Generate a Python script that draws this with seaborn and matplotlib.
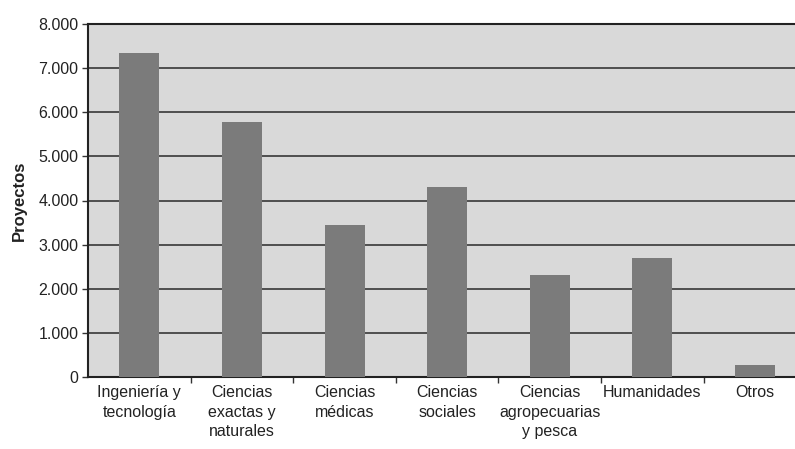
import pandas as pd
import seaborn as sns
import matplotlib.pyplot as plt
from matplotlib.ticker import FuncFormatter, FixedLocator

# datos
categorias = ["Ingeniería y\ntecnología", "Ciencias\nexactas y\nnaturales", "Ciencias\nmédicas",
              "Ciencias\nsociales", "Ciencias\nagropecuarias\ny pesca", "Humanidades", "Otros"]
proyectos = [7350, 5780, 3450, 4310, 2310, 2700, 270]
y_ticks = [0, 1000, 2000, 3000, 4000, 5000, 6000, 7000, 8000]

df = pd.DataFrame({"Area": categorias, "Proyectos": proyectos})

sns.set_style("white")
plt.rcParams['font.family'] = ['Liberation Sans Narrow', 'Liberation Sans', 'DejaVu Sans']

fig = plt.figure(figsize=(7.95, 4.49), dpi=100)
ax = fig.add_axes([88 / 795, 1 - 377 / 449, (795 - 88) / 795, 353 / 449])
ax.set_facecolor("#d9d9d9")

sns.barplot(data=df, x="Area", y="Proyectos", color="#7b7b7b", width=0.39,
            saturation=1, linewidth=0, ax=ax, zorder=3)

ax.set_ylim(0, 8000)
ax.set_xlim(-0.5, 6.39)
ax.set_yticks(y_ticks)
ax.yaxis.set_major_formatter(FuncFormatter(lambda v, p: f"{int(v):,}".replace(",", ".")))
ax.grid(axis="y", color="#2a2a2a", linewidth=1.1, zorder=1)
ax.set_axisbelow(True)

# ticks del eje x en los limites de categoria
ax.set_xticks(range(len(categorias)))
ax.set_xticklabels(categorias, fontsize=11.5, color="#222222", linespacing=1.35)
ax.xaxis.set_minor_locator(FixedLocator([i + 0.5 for i in range(len(categorias) - 1)]))
ax.tick_params(axis="x", which="major", length=0, pad=6)
ax.tick_params(axis="x", which="minor", bottom=True, length=4, width=1, color="#333333",
               direction="out")
ax.tick_params(axis="y", length=4, width=1, color="#333333", direction="out",
               labelsize=11.5, labelcolor="#222222", pad=3, left=True)

for s in ["left", "bottom", "top"]:
    ax.spines[s].set_visible(True)
    ax.spines[s].set_color("#222222")
    ax.spines[s].set_linewidth(1.5)
ax.spines["right"].set_visible(False)

ax.set_xlabel("")
ax.set_ylabel("Proyectos", fontsize=12, fontweight="bold", color="#222222", labelpad=8)

fig.savefig("out.png", dpi=100, facecolor="white")
